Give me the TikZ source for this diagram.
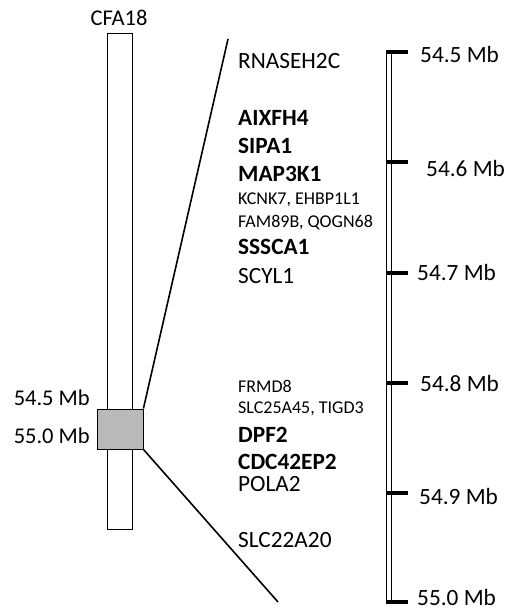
\documentclass[tikz,border=0pt]{standalone}
\usepackage{fontspec}
\setmainfont{Carlito}
\usetikzlibrary{positioning}
\begin{document}
\begin{tikzpicture}[x=1pt, y=-1pt,
  gene/.style={anchor=base west, inner sep=0pt, font=\fontsize{23.3}{27}\selectfont},
  genebold/.style={gene, font=\fontsize{23.3}{27}\selectfont\bfseries},
  genesmall/.style={gene, font=\fontsize{18}{21}\selectfont},
  mblabel/.style={anchor=base west, inner sep=0pt, font=\fontsize{23.3}{27}\selectfont},
  chrlabel/.style={inner sep=0pt, font=\fontsize{22.5}{26}\selectfont},
  zoomline/.style={line width=1.6pt},
  tickmark/.style={line width=4pt}]
\useasboundingbox (0,0) rectangle (506,610);
% --- chromosome with highlighted region ---
\node[draw, line width=0.8pt, minimum width=25pt, minimum height=496pt, inner sep=0pt] (chrom) at (119.5,281) {};
\node[chrlabel, anchor=base] (chrname) at (119,26) {CFA18};
\node[draw, line width=0.8pt, fill=gray!55, minimum width=46pt, minimum height=40pt, inner sep=0pt] (region) at (120,429) {};
\node[chrlabel, anchor=base east] (regtop) at (90,405) {54.5 Mb};
\node[chrlabel, anchor=base east] (regbot) at (90,443) {55.0 Mb};
% --- zoom lines ---
\coordinate (ztop) at (228,39);
\coordinate (zbot) at (278,602);
\draw[zoomline] (region.north east) -- (ztop);
\draw[zoomline] (region.south east) -- (zbot);
% --- scale bar ---
\node[draw, line width=0.7pt, fill=white, minimum width=5pt, minimum height=551pt, inner sep=0pt] (scalebar) at (388.5,327.5) {};
\foreach \y/\x/\b/\mb in {52/420/63/54.5, 162/426/176/54.6, 273/417/280/54.7, 383/420/391/54.8, 493/419/504/54.9, 602/417/605/55.0}{
  \draw[tickmark] (386,\y) -- ++(22,0);
  \node[mblabel] (mb\mb) at (\x,\b) {\mb\ Mb};
}
% --- genes ---
\node[gene]      (rnaseh) at (238,68) {RNASEH2C};
\node[genebold]  (aixfh)  at (238,125) {AIXFH4};
\node[genebold]  (sipa)   at (238,153) {SIPA1};
\node[genebold]  (map3k)  at (238,181) {MAP3K1};
\node[genesmall] (kcnk)   at (238,204) {KCNK7, EHBP1L1};
\node[genesmall] (fam)    at (238,227) {FAM89B, QOGN68};
\node[genebold]  (sssca)  at (238,254) {SSSCA1};
\node[gene]      (scyl)   at (238,283) {SCYL1};
\node[genesmall] (frmd)   at (238,392) {FRMD8};
\node[genesmall] (slc25)  at (238,413) {SLC25A45, TIGD3};
\node[genebold]  (dpf)    at (238,442) {DPF2};
\node[genebold]  (cdc)    at (238,469) {CDC42EP2};
\node[gene]      (pola)   at (238,491) {POLA2};
\node[gene]      (slc22)  at (238,547) {SLC22A20};
\end{tikzpicture}
\end{document}
